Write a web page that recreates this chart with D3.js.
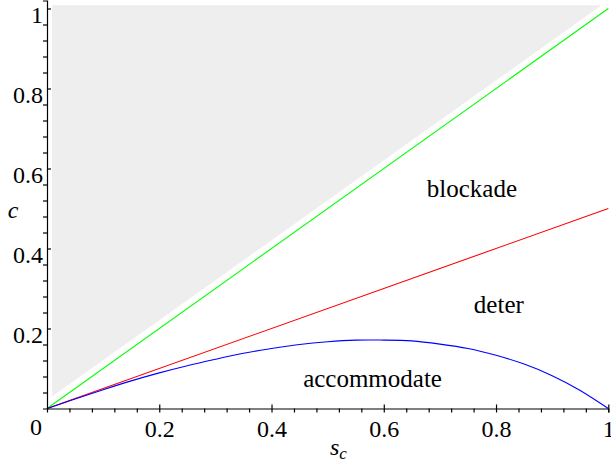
<!DOCTYPE html>
<html>
<head>
<meta charset="utf-8">
<script src="https://cdn.jsdelivr.net/npm/d3@7"></script>
<style>
  text, tspan { font-family: 'Times New Roman', 'Liberation Serif', 'Tinos', 'FreeSerif' !important; }
</style>
</head>
<body style="margin:0">
<svg id="chart" width="611" height="460"></svg>
<script>
// tick values
const xTicks = [0.2, 0.4, 0.6, 0.8, 1]
const yTicks = [0.2, 0.4, 0.6, 0.8, 1]
const minorTicks = [0.04, 0.08, 0.12, 0.16, 0.24, 0.28, 0.32, 0.36, 0.44, 0.48, 0.52, 0.56,
  0.64, 0.68, 0.72, 0.76, 0.84, 0.88, 0.92, 0.96]

// boundary lines (s_c, c)
const blockadeLine = [[0, 0], [1, 1]]
const deterLine = [[0, 0], [1, 0.5]]
const accomS = [0, 0.05, 0.1, 0.15, 0.2, 0.25, 0.3, 0.35, 0.4, 0.45, 0.5, 0.55, 0.6, 0.65, 0.7, 0.75, 0.8, 0.85, 0.9, 0.95, 1]
const accomC = [0, 0.024, 0.047, 0.069, 0.089, 0.107, 0.123, 0.138, 0.15, 0.16, 0.167, 0.171, 0.171, 0.169, 0.161, 0.15, 0.133, 0.111, 0.082, 0.045, 0]
// shaded infeasible region
const shaded = [[0.009, 0.03], [0.009, 1.008], [0.988, 1.008]]

const regionLabels = ['blockade', 'deter', 'accommodate']
const regionPos = [[0.757, 0.53], [0.805, 0.238], [0.58, 0.055]]

const svg = d3.select('#chart')

const x = d3.scaleLinear().domain([0, 1]).range([47, 608.3])
const y = d3.scaleLinear().domain([0, 1.02]).range([408.5, 0.5])

const line = d3
  .line()
  .x(d => x(d[0]))
  .y(d => y(d[1]))

svg
  .append('path')
  .datum(shaded)
  .attr('d', d => line(d) + 'Z')
  .attr('fill', '#eeeeee')

svg
  .append('path')
  .datum(blockadeLine)
  .attr('d', line)
  .attr('fill', 'none')
  .attr('stroke', '#00ff00')
  .attr('stroke-width', 1.1)

svg
  .append('path')
  .datum(deterLine)
  .attr('d', line)
  .attr('fill', 'none')
  .attr('stroke', '#ff0000')
  .attr('stroke-width', 1.1)

svg
  .append('path')
  .datum(accomS.map((s, i) => [s, accomC[i]]))
  .attr('d', line.curve(d3.curveNatural))
  .attr('fill', 'none')
  .attr('stroke', '#0000ff')
  .attr('stroke-width', 1.1)

// x axis
const xAxisG = svg.append('g').attr('transform', `translate(0,${y(0)})`)
xAxisG
  .append('g')
  .call(d3.axisBottom(x).tickValues(minorTicks).tickSize(4).tickFormat(''))
  .call(g => g.select('.domain').remove())
xAxisG
  .append('g')
  .call(d3.axisBottom(x).tickValues(xTicks).tickSizeOuter(0).tickSize(4).tickFormat(d => String(d)))
  .call(g => g.attr('font-family', null).attr('font-size', null))
  .call(g => g.selectAll('.tick line').attr('y1', -4))
  .call(g =>
    g.selectAll('text')
      .attr('y', 28)
      .attr('dy', null)
      .style('font-size', '24px')
      .attr('fill', '#000')
  )

// y axis
const yAxisG = svg.append('g').attr('transform', `translate(${x(0)},0)`)
yAxisG
  .append('g')
  .call(d3.axisLeft(y).tickValues(minorTicks).tickSize(4).tickFormat(''))
  .call(g => g.select('.domain').remove())
yAxisG
  .append('g')
  .call(d3.axisLeft(y).tickValues(yTicks).tickSizeOuter(0).tickSize(4).tickFormat(d => String(d)))
  .call(g => g.attr('font-family', null).attr('font-size', null))
  .call(g => g.selectAll('.tick line').attr('x2', 4))
  .call(g =>
    g.selectAll('text')
      .attr('x', -4)
      .attr('y', 14)
      .attr('dy', null)
      .style('font-size', '24px')
      .attr('fill', '#000')
  )

svg.selectAll('.domain, .tick line').attr('stroke', '#000').attr('stroke-width', 1.2)

// origin label
svg
  .append('text')
  .text('0')
  .attr('x', x(0) - 11)
  .attr('y', 435)
  .attr('text-anchor', 'middle')
  .style('font-size', '24px')

// axis titles
svg
  .append('text')
  .text('c')
  .attr('x', 13)
  .attr('y', 218)
  .attr('text-anchor', 'middle')
  .style('font-style', 'italic')
  .style('font-size', '24px')

const xt = svg
  .append('text')
  .attr('x', 330)
  .attr('y', 455)
  .style('font-style', 'italic')
  .style('font-size', '24px')
xt.append('tspan').text('s')
xt.append('tspan').text('c').style('font-size', '17px').attr('dy', 4)

// region labels
svg
  .selectAll('.region')
  .data(regionLabels)
  .enter()
  .append('text')
  .attr('class', 'region')
  .text(d => d)
  .attr('x', (d, i) => x(regionPos[i][0]))
  .attr('y', (d, i) => y(regionPos[i][1]))
  .attr('text-anchor', 'middle')
  .style('font-size', '25px')
</script>
</body>
</html>
